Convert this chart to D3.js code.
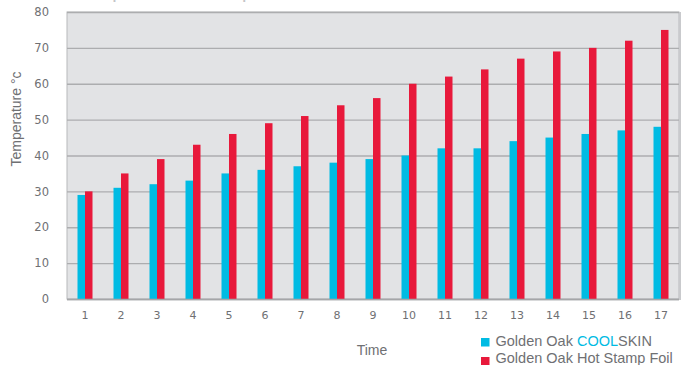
<!DOCTYPE html>
<html>
<head>
<meta charset="utf-8">
<script src="https://cdn.jsdelivr.net/npm/d3@7"></script>
<style>
  html, body { margin: 0; padding: 0; background: #ffffff; }
  svg { display: block; font-family: "DejaVu Sans", "Liberation Sans", sans-serif; }
</style>
</head>
<body>
<svg id="chart" width="694" height="365"></svg>
<script>
// Time steps along the x axis
const times = ["1","2","3","4","5","6","7","8","9","10","11","12","13","14","15","16","17"];
// Surface temperatures (°C) for each material
const coolskin = [29, 31, 32, 33, 35, 36, 37, 38, 39, 40, 42, 42, 44, 45, 46, 47, 48];
const hotStampFoil = [30, 35, 39, 43, 46, 49, 51, 54, 56, 60, 62, 64, 67, 69, 70, 72, 75];
const yTicks = [0, 10, 20, 30, 40, 50, 60, 70, 80];
const seriesNames = ["Golden Oak COOLSKIN", "Golden Oak Hot Stamp Foil"];

const cyan = "#00bbe3";
const red = "#e8193b";
const textGrey = "#6f7073";

const svg = d3.select("#chart");
const m = { left: 67, right: 679, top: 12, bottom: 299 };

const x = d3.scaleBand().domain(times).range([m.left, m.right]).paddingInner(0).paddingOuter(0);
const xs = d3.scaleBand().domain([0, 1]).range([x.bandwidth() / 2 - 7.5, x.bandwidth() / 2 + 7.5]);
const y = d3.scaleLinear().domain([0, 80]).range([m.bottom, m.top]);

// Title, running off the top of the page
const title = svg.append("text")
  .attr("x", 66).attr("y", -2)
  .attr("font-size", 20).attr("fill", "#c4c5c8");
title.append("tspan").text("Comparative Temperature Test: Golden Oak ");
title.append("tspan").attr("fill", "#a5e0f2").text("COOL");
title.append("tspan").text("SKIN vs Hot Stamp Foil");

// Plot background
svg.append("rect")
  .attr("x", m.left).attr("y", m.top)
  .attr("width", m.right - m.left).attr("height", m.bottom - m.top)
  .attr("fill", "#e2e3e5")
  .attr("stroke", "#b8b9bc").attr("stroke-width", 1);
// right edge shadow
svg.append("line")
  .attr("x1", m.right + 1).attr("x2", m.right + 1)
  .attr("y1", m.top).attr("y2", m.bottom + 1)
  .attr("stroke", "#c9cacd").attr("stroke-width", 2);

// Gridlines via axis
const yAxis = svg.append("g")
  .attr("transform", `translate(${m.left},0)`)
  .call(d3.axisLeft(y).tickValues(yTicks).tickSize(-(m.right - m.left)).tickPadding(18));
yAxis.select(".domain").remove();
yAxis.selectAll(".tick line").attr("stroke", "#acadaf").attr("stroke-width", 1.3);
yAxis.selectAll(".tick text")
  .attr("fill", textGrey).attr("font-size", 11.5)
  .attr("font-family", "DejaVu Sans, sans-serif");

// Bars
const data = times.map((t, i) => ({ t, vals: [coolskin[i], hotStampFoil[i]] }));
const groups = svg.append("g").selectAll("g").data(data).join("g")
  .attr("transform", d => `translate(${x(d.t)},0)`);
groups.selectAll("rect").data(d => d.vals.map((v, k) => ({ v, k }))).join("rect")
  .attr("x", d => xs(d.k))
  .attr("width", xs.bandwidth())
  .attr("y", d => y(d.v))
  .attr("height", d => y(0) - y(d.v))
  .attr("fill", d => d.k === 0 ? cyan : red);

// Baseline
svg.append("line")
  .attr("x1", m.left).attr("x2", m.right)
  .attr("y1", m.bottom + 0.5).attr("y2", m.bottom + 0.5)
  .attr("stroke", "#a5a6a8").attr("stroke-width", 1.5);

// X axis labels
const xAxis = svg.append("g")
  .attr("transform", `translate(0,${m.bottom})`)
  .call(d3.axisBottom(x).tickSize(0).tickPadding(12));
xAxis.select(".domain").remove();
xAxis.selectAll(".tick text")
  .attr("fill", textGrey).attr("font-size", 11)
  .attr("font-family", "DejaVu Sans, sans-serif");

// Axis titles
svg.append("text")
  .attr("x", 372).attr("y", 355)
  .attr("text-anchor", "middle")
  .attr("font-size", 14).attr("fill", textGrey)
  .attr("font-family", "Liberation Sans, sans-serif")
  .text("Time");

svg.append("text")
  .attr("transform", "translate(21,119) rotate(-90)")
  .attr("text-anchor", "middle")
  .attr("font-size", 14).attr("fill", textGrey)
  .attr("font-family", "Liberation Sans, sans-serif")
  .text("Temperature °c");

// Legend
const legend = svg.append("g").attr("font-family", "Liberation Sans, sans-serif");
[cyan, red].forEach((c, i) => {
  legend.append("rect")
    .attr("x", 481).attr("y", 338 + i * 19)
    .attr("width", 8.5).attr("height", 8.5)
    .attr("fill", c);
});
const l1 = legend.append("text").attr("x", 495.5).attr("y", 346)
  .attr("font-size", 14.5).attr("fill", textGrey);
l1.append("tspan").text("Golden Oak ");
l1.append("tspan").attr("fill", cyan).text("COOL");
l1.append("tspan").text("SKIN");
legend.append("text").attr("x", 495.5).attr("y", 363)
  .attr("font-size", 14.5).attr("fill", textGrey)
  .text(seriesNames[1]);
</script>
</body>
</html>
